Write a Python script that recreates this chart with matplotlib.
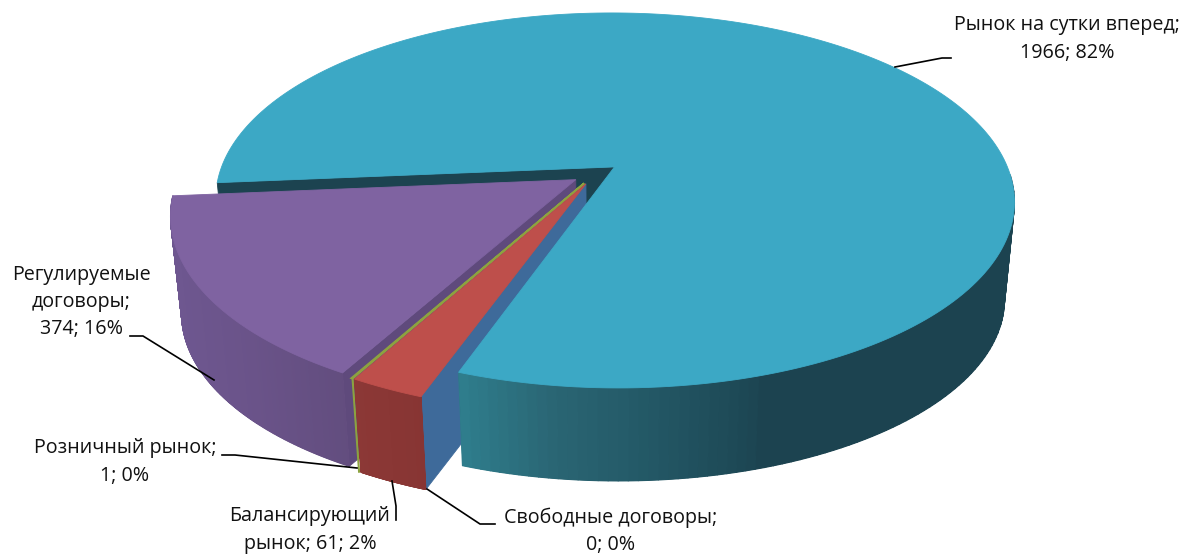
"""3D exploded pie of trading volumes, drawn on a pixel-sized axes."""
import matplotlib
matplotlib.use("Agg")
import matplotlib.pyplot as plt
import numpy as np
from matplotlib.collections import PolyCollection
from matplotlib.colors import to_rgb

plt.rcParams["font.family"] = ["Open Sans", "DejaVu Sans"]

# clockwise from the first slice
names = ["Рынок на сутки вперед", "Свободные договоры", "Балансирующий рынок",
         "Розничный рынок", "Регулируемые договоры"]
values = [1966, 0, 61, 1, 374]
percents = [82, 0, 2, 0, 16]

TOP = ["#3CA8C5", "#3B6A9C", "#BE4F4B", "#8CA23F", "#7F63A1"]
FIRST_ANGLE = 184.9
EXPLODE = 0.06

# plane -> image projection (pixels)
X0, Y0, R, H, K = 595.8, 173.6, 395.5, 183.9, 0.18
# top rim -> bottom rim
SHRINK, XV, DROP = 0.975, 613.0, 102.7


def project(u, v):
    w = 1 + K * np.asarray(v)
    return X0 + R * np.asarray(u) / w, Y0 - H * np.asarray(v) / w


def lower(x, y):
    return XV + (np.asarray(x) - XV) * SHRINK, np.asarray(y) * SHRINK + DROP


def blend(stops, t):
    pos = [s[0] for s in stops]
    rgb = np.array([to_rgb(s[1]) for s in stops])
    return tuple(np.interp(t, pos, rgb[:, i]) for i in range(3))


def slice_geometry(a_start, a_end, n=240):
    mid = np.radians((a_start + a_end) / 2)
    cu, cv = EXPLODE * np.cos(mid), EXPLODE * np.sin(mid)
    th = np.radians(np.linspace(a_start, a_end, n))
    ax_, ay_ = project(cu, cv)
    rx, ry = project(cu + np.cos(th), cv + np.sin(th))
    return float(ax_), float(ay_), rx, ry


def face(ax, xs, ys, color, z):
    ax.fill(xs, ys, color=color, lw=0.6, zorder=z)


def radial_wall(ax, ax_, ay_, ex, ey, color, z):
    bx, by = lower([ax_, ex], [ay_, ey])
    face(ax, [ax_, ex, bx[1], bx[0]], [ay_, ey, by[1], by[0]], color, z)


def outer_wall(ax, rx, ry, stops, z):
    bx, by = lower(rx, ry)
    # solid base so the seams between strips never show white
    base = blend(stops, (rx.min() + rx.max()) / 2)
    ax.fill(np.r_[rx, bx[::-1]], np.r_[ry, by[::-1]], color=base, lw=0, zorder=z)
    quads, cols = [], []
    for i in range(len(rx) - 1):
        quads.append([(rx[i], ry[i]), (rx[i + 1], ry[i + 1]),
                      (bx[i + 1], by[i + 1]), (bx[i], by[i])])
        cols.append(blend(stops, rx[i]))
    ax.add_collection(PolyCollection(quads, facecolors=cols, edgecolors=cols,
                                     linewidths=0.8, zorder=z))


fig = plt.figure(figsize=(11.82, 5.54), dpi=100)
ax = fig.add_axes([0, 0, 1, 1])
ax.set_xlim(0, 1182)
ax.set_ylim(554, 0)
ax.axis("off")

shares = np.array(values) / sum(values) * 360
edges = FIRST_ANGLE - np.concatenate([[0], np.cumsum(shares)])
geo = [slice_geometry(edges[i], edges[i + 1]) for i in range(len(values))]

# hidden-side walls first: big slice, regulated slice, zero slice
ax_, ay_, rx, ry = geo[0]
radial_wall(ax, ax_, ay_, rx[0], ry[0], "#1C4350", 1)
pu = geo[4]
radial_wall(ax, pu[0], pu[1], pu[2][0], pu[3][0], "#5F4A7C", 1.5)
ba = geo[2]
radial_wall(ax, ba[0], ba[1], ba[2][0], ba[3][0], "#3E6A9A", 2)

# big slice rim and top
angles = np.linspace(edges[0], edges[1], len(rx))
mask = angles < -2
outer_wall(ax, rx[mask], ry[mask],
           [(460, "#2F7F8E"), (560, "#2A6573"), (640, "#245A68"),
            (740, "#1E4A57"), (770, "#1C4350"), (1020, "#1C4350")], 3)
face(ax, np.r_[ax_, rx], np.r_[ay_, ry], TOP[0], 4)

# regulated slice
ax_, ay_, rx, ry = geo[4]
outer_wall(ax, rx, ry, [(170, "#6E5790"), (250, "#6A5389"), (350, "#624D7E")], 5)
face(ax, np.r_[ax_, rx], np.r_[ay_, ry], TOP[4], 7)

# retail sliver
ax_, ay_, rx, ry = geo[3]
ax.fill(np.r_[ax_, rx], np.r_[ay_, ry], color=TOP[3], lw=1.5, zorder=8)
bx, by = lower(rx, ry)
ax.plot([rx[0], bx[0]], [ry[0], by[0]], color=TOP[3], lw=1.5, zorder=8)

# balancing slice
ax_, ay_, rx, ry = geo[2]
outer_wall(ax, rx, ry, [(350, "#8C3836"), (425, "#873533")], 9)
face(ax, np.r_[ax_, rx], np.r_[ay_, ry], TOP[2], 10)

# labels
lbl = dict(ha="center", va="center", fontsize=14.2, color="#111111", linespacing=1.47, zorder=20)
ax.text(1067, 39, f"{names[0]};\n{values[0]}; {percents[0]}%", **lbl)
ax.text(81, 302, f"Регулируемые\nдоговоры;\n{values[4]}; {percents[4]}%", **lbl)
ax.text(125, 462, f"{names[3]};\n{values[3]}; {percents[3]}%", **lbl)
ax.text(310, 530, f"Балансирующий\nрынок; {values[2]}; {percents[2]}%", **lbl)
ax.text(611, 531, f"{names[1]};\n{values[1]}; {percents[1]}%", **lbl)

# leader lines
leaders = [
    ([895, 942, 951], [67, 58, 58]),
    ([130, 143, 214], [336, 336, 380]),
    ([222, 235, 357], [455, 455, 468]),
    ([392, 396, 396], [481, 506, 520]),
    ([427, 480, 495], [489, 524, 524]),
]
for lx, ly in leaders:
    ax.plot(lx, ly, color="black", lw=1.2, zorder=15)

fig.savefig("out.png", dpi=100)
